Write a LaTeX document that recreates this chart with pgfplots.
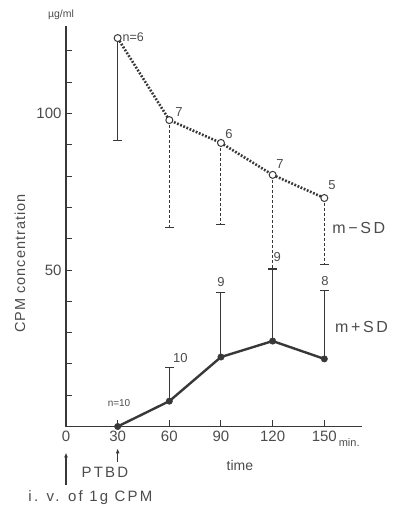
\documentclass[border=0pt]{standalone}
\usepackage{pgfplots}
\pgfplotsset{compat=1.18}
\usetikzlibrary{arrows.meta}
\usepackage{fontspec}
\setmainfont{Liberation Sans}
\newfontfamily\lsp[LetterSpace=15]{Liberation Sans}
\newfontfamily\lspb[LetterSpace=7]{Liberation Sans}
\definecolor{ink}{gray}{0.22}
\definecolor{txt}{gray}{0.30}
\begin{document}
\begin{tikzpicture}
\path[use as bounding box] (-66pt,-79.5pt) rectangle (328pt,426.5pt);
\begin{axis}[
  at={(0,0)}, anchor=south west,
  scale only axis, width=296.2pt, height=400pt,
  xmin=0, xmax=172, ymin=0, ymax=127.8,
  clip=false,
  axis x line=bottom, axis y line=left,
  axis line style={-, line width=1.6pt, draw=ink},
  tick align=inside,
  major tick length=6pt, minor tick length=6pt,
  tick style={line width=1pt, draw=ink},
  xtick={0,30,60,90,120,150},
  ytick={50,100},
  minor ytick={10,20,30,40,60,70,80,90,110,120},
  /pgf/number format/assume math mode=true,
  ticklabel style={font=\fontsize{15}{15}\selectfont, text=txt},
  xticklabel style={yshift=-1pt},
  yticklabel style={xshift=-1pt},
]
% upper series (m - SD) error bars
\addplot[ink, only marks, mark=none, forget plot, error bars/.cd, y dir=minus, y explicit, error mark=none,
  error bar style={draw=ink, line width=1pt, solid}]
  coordinates {(30,124.1) -= (0,32.6)};
\addplot[ink, only marks, mark=none, forget plot, error bars/.cd, y dir=minus, y explicit, error mark=none,
  error bar style={draw=ink, line width=1pt, densely dashed}]
  coordinates {(60,97.9) -= (0,34.2) (90,90.6) -= (0,26.2) (120,80.4) -= (0,30.1) (150,73.0) -= (0,21.4)};
% lower series (m + SD) error bars
\addplot[ink, only marks, mark=none, forget plot, error bars/.cd, y dir=plus, y explicit, error mark=none,
  error bar style={draw=ink, line width=1pt, solid}]
  coordinates {(60,8.1) += (0,10.9) (90,22.2) += (0,20.5) (120,27.3) += (0,23.3) (150,21.6) += (0,21.7)};
% caps at the ends of the bars
\addplot[ink, only marks, mark=-, mark size=4.5pt, mark options={line width=1pt}, forget plot]
  coordinates {(30,91.5) (60,63.7) (90,64.4) (120,50.3) (150,51.6)
               (60,19.0) (90,42.7) (120,50.6) (150,43.3)};
% upper line
\addplot[draw=ink, line width=2.6pt, dash pattern=on 1.8pt off 1.6pt, mark=*, mark size=3.5pt,
  mark options={solid, line width=1pt, fill=white, draw=ink}]
  coordinates {(30,124.1) (60,97.9) (90,90.6) (120,80.4) (150,73.0)};
% lower line
\addplot[draw=ink, line width=2.4pt, mark=*, mark size=3.2pt,
  mark options={solid, fill=ink, line width=0.5pt}]
  coordinates {(30,0) (60,8.1) (90,22.2) (120,27.3) (150,21.6)};
% n labels
\begin{scope}[every node/.style={text=txt, inner sep=0pt}]
\node[anchor=west, font=\fontsize{12.5}{12.5}\selectfont] at (axis cs:32.8,124.4) {n=6};
\node[font=\fontsize{13}{13}\selectfont] at (axis cs:65.6,100.4) {7};
\node[font=\fontsize{13}{13}\selectfont] at (axis cs:94.7,93.3) {6};
\node[font=\fontsize{13}{13}\selectfont] at (axis cs:124.3,83.7) {7};
\node[font=\fontsize{13}{13}\selectfont] at (axis cs:154.5,77.2) {5};
\node[font=\fontsize{10}{10}\selectfont] at (axis cs:30.8,7.4) {n=10};
\node[font=\fontsize{13}{13}\selectfont] at (axis cs:66.4,22.0) {10};
\node[font=\fontsize{13}{13}\selectfont] at (axis cs:90,46.0) {9};
\node[font=\fontsize{13}{13}\selectfont] at (axis cs:122.6,54.3) {9};
\node[font=\fontsize{13}{13}\selectfont] at (axis cs:150.4,46.4) {8};
\node[anchor=west, font=\fontsize{16}{16}\selectfont] at (axis cs:154.6,63.4) {\lsp m\,\textminus\,SD};
\node[anchor=west, font=\fontsize{16}{16}\selectfont] at (axis cs:156.2,31.8) {\lsp m\,+\,SD};
\node[font=\fontsize{10.5}{10.5}\selectfont] at (axis cs:-2.9,131.5) {µg/ml};
\node[rotate=90, anchor=west, font=\fontsize{14.5}{14.5}\selectfont] at (axis cs:-26.7,29.9) {\lspb CPM concentration};
\node[anchor=base west, font=\fontsize{11}{11}\selectfont] at (axis cs:158.3,-6.4) {min.};
\node[font=\fontsize{14}{14}\selectfont] at (axis cs:101,-12.4) {time};
\node[font=\fontsize{15}{15}\selectfont] at (axis cs:22.6,-14.7) {\lsp PTBD};
\node[font=\fontsize{15}{15}\selectfont] at (axis cs:14.2,-22.6) {\lsp i. v. of 1g CPM};
\end{scope}
\draw[line width=1.2pt, draw=ink, -{Latex[length=5pt,width=4pt]}] (axis cs:0,-18.7) -- (axis cs:0,-8.3);
\draw[line width=1.2pt, draw=ink, -{Latex[length=5pt,width=4pt]}] (axis cs:30,-11.4) -- (axis cs:30,-7.0);
\end{axis}
\end{tikzpicture}
\end{document}
